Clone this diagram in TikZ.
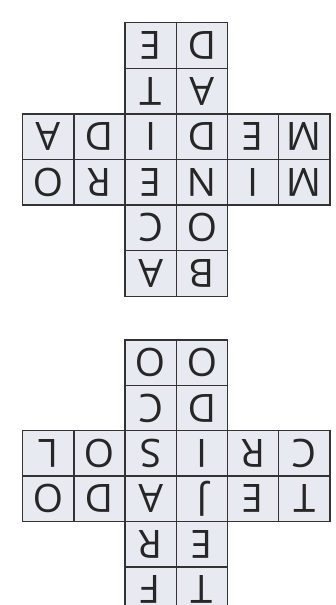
\documentclass[tikz,border=0pt]{standalone}
\usepackage{fontspec}
\setmainfont{Open Sans}
\definecolor{cellfill}{HTML}{E8EAF2}
\definecolor{gridline}{HTML}{333333}
\definecolor{letter}{HTML}{262626}
\begin{document}
\begin{tikzpicture}[x=1pt,y=1pt,
  cell/.style={draw=gridline,line width=1.3pt,fill=cellfill,rectangle,
    minimum width=51.2pt,minimum height=45.6pt,inner sep=0pt,outer sep=0pt,
    rotate=180,text=letter,font=\fontsize{39}{39}\selectfont}]
\useasboundingbox (0,0) rectangle (335,-605);
\clip (0,0) rectangle (335,-605);
\fill[white] (0,0) rectangle (335,-605);
% top cross
\foreach \r/\c/\l in {0/2/E,0/3/D,1/2/T,1/3/A,
  2/0/A,2/1/D,2/2/I,2/3/D,2/4/E,2/5/M,
  3/0/O,3/1/R,3/2/E,3/3/N,3/4/I,3/5/M,
  4/2/C,4/3/O,5/2/A,5/3/B}
  \node[cell] (t-\r-\c) at ({22.7+51.2*(\c+0.5)},{-(22.7+45.6*(\r+0.5))}) {\l};
% bottom cross
\foreach \r/\c/\l in {0/2/O,0/3/O,1/2/C,1/3/D,
  2/0/L,2/1/O,2/2/S,2/3/I,2/4/R,2/5/C,
  3/0/O,3/1/D,3/2/A,3/3/J,3/4/E,3/5/T,
  4/2/R,4/3/E,5/2/F,5/3/T}
  \node[cell] (b-\r-\c) at ({22.7+51.2*(\c+0.5)},{-(340+45.4*(\r+0.5))}) {\l};
\end{tikzpicture}
\end{document}
